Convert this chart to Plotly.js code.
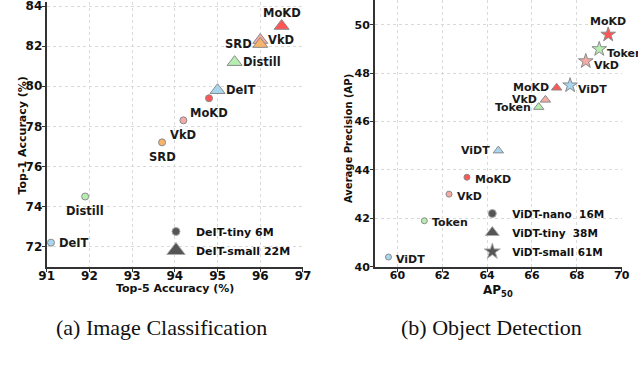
<!DOCTYPE html>
<html>
<head>
<meta charset="utf-8">
<script src="https://cdn.plot.ly/plotly-3.0.1.min.js"></script>
<style>
  body { margin: 0; background: #fff; }
  #chart { width: 638px; height: 376px; }
</style>
</head>
<body>
<div id="chart"></div>
<script>
// (a) image classification, DeiT-tiny (circles) and DeiT-small (triangles)
var clsTinyMethods = ["DeIT", "Distill", "SRD", "VkD", "MoKD"];
var clsTinyTop5 = [91.1, 91.9, 93.7, 94.2, 94.8];
var clsTinyTop1 = [72.2, 74.5, 77.2, 78.3, 79.4];

var clsSmallMethods = ["DeIT", "Distill", "VkD", "SRD", "MoKD"];
var clsSmallTop5 = [95.0, 95.4, 96.0, 96.0, 96.5];
var clsSmallTop1 = [79.8, 81.2, 82.3, 82.1, 83.0];

// (b) object detection, ViDT-nano / tiny / small
var detMethods = ["ViDT", "Token", "VkD", "MoKD"];
var nanoAP50 = [59.6, 61.2, 62.3, 63.1];
var nanoAP = [40.4, 41.9, 43.0, 43.7];
var tinyAP50 = [64.5, 66.3, 66.6, 67.1];
var tinyAP = [44.8, 46.6, 46.9, 47.4];
var smallMethods = ["ViDT", "Token", "VkD", "MoKD"];
var smallAP50 = [67.7, 69.0, 68.4, 69.4];
var smallAP = [47.5, 49.0, 48.5, 49.6];

var methodColor = {
  DeIT: "#a9d6ef", ViDT: "#a9d6ef",
  Distill: "#b6eeb0", Token: "#b6eeb0",
  SRD: "#f9b46a",
  VkD: "#f5aaa3",
  MoKD: "#ff5555"
};

var FONT = "DejaVu Sans, sans-serif";
var edge = {color: "#8a8a8a", width: 1};

// where a point's name sits next to it
var place = {
  r:  {xanchor: "left",   xshift: 6,  yshift: 0},
  rd: {xanchor: "left",   xshift: 6,  yshift: -2},
  rl: {xanchor: "left",   xshift: 6,  yshift: -4.5},
  l:  {xanchor: "right",  xshift: -6, yshift: 0},
  b:  {xanchor: "center", xshift: 0,  yshift: -14.5},
  t:  {xanchor: "center", xshift: 0,  yshift: 13}
};

function pts(methods, xs, ys, symbol, size, xa, ya) {
  return {
    x: xs, y: ys, text: methods,
    xaxis: xa, yaxis: ya,
    type: "scatter", mode: "markers",
    marker: {symbol: symbol, size: size, color: methods.map(function (m) { return methodColor[m]; }), line: edge},
    cliponaxis: false, showlegend: false, hoverinfo: "x+y+text"
  };
}

var annotations = [];
function names(methods, xs, ys, where, xa, ya, fs) {
  methods.forEach(function (m, i) {
    var p = place[where[i]];
    annotations.push({
      text: m, x: xs[i], y: ys[i], xref: xa, yref: ya, showarrow: false,
      xanchor: p.xanchor, yanchor: "middle", xshift: p.xshift, yshift: p.yshift,
      font: {family: FONT, size: fs, weight: "bold", color: "#1a1a1a"}
    });
  });
}

function key(name, symbol, size, xa, ya, lg) {
  return {
    x: [null], y: [null], xaxis: xa, yaxis: ya, name: name, legend: lg,
    type: "scatter", mode: "markers",
    marker: {symbol: symbol, size: size, color: "#555", line: {color: "#aaa", width: 1}}
  };
}

var data = [
  pts(clsTinyMethods, clsTinyTop5, clsTinyTop1, "circle", 7, "x", "y"),
  pts(clsSmallMethods, clsSmallTop5, clsSmallTop1, "triangle-up", 13, "x", "y"),
  pts(detMethods, nanoAP50, nanoAP, "circle", 6, "x2", "y2"),
  pts(detMethods, tinyAP50, tinyAP, "triangle-up", 9, "x2", "y2"),
  pts(smallMethods, smallAP50, smallAP, "star", 11, "x2", "y2"),
  key("DeIT-tiny 6M", "circle", 8, "x", "y", "legend"),
  key("DeIT-small 22M", "triangle-up", 18, "x", "y", "legend"),
  key("ViDT-nano\u00a0\u00a016M", "circle", 8, "x2", "y2", "legend2"),
  key("ViDT-tiny\u00a0\u00a038M", "triangle-up", 12, "x2", "y2", "legend2"),
  key("ViDT-small 61M", "star", 12, "x2", "y2", "legend2")
];

names(clsTinyMethods, clsTinyTop5, clsTinyTop1, ["r", "b", "b", "b", "b"], "x", "y", 11.5);
names(clsSmallMethods, clsSmallTop5, clsSmallTop1, ["r", "r", "r", "l", "t"], "x", "y", 11.5);
names(detMethods, nanoAP50, nanoAP, ["rd", "rd", "rd", "rd"], "x2", "y2", 11);
names(detMethods, tinyAP50, tinyAP, ["l", "l", "l", "l"], "x2", "y2", 11);
names(smallMethods, smallAP50, smallAP, ["rl", "rl", "rl", "t"], "x2", "y2", 11);

function axis(extra) {
  var a = {
    showline: true, linecolor: "#333", linewidth: 2,
    ticks: "outside", ticklen: 3, tickcolor: "#333",
    showgrid: true, gridcolor: "#d9d9d9", griddash: "dot", gridwidth: 1,
    zeroline: false, fixedrange: true, ticklabeloverflow: "allow",
    tickfont: {family: FONT, size: 12, weight: "bold", color: "#111"}
  };
  for (var k in extra) a[k] = extra[k];
  return a;
}

function paperText(text, x, y, size, angle, family) {
  return {
    text: text, xref: "paper", yref: "paper", x: x, y: y,
    xanchor: "center", yanchor: "middle", showarrow: false, textangle: angle,
    font: {family: family || FONT, size: size, weight: family ? "normal" : "bold", color: "#111"}
  };
}

annotations.push(
  paperText("Top-5 Accuracy (%)", 0.2743, 0.232, 11, 0),
  paperText("Top-1 Accuracy (%)", 0.0345, 0.6396, 11, -90),
  paperText("AP<sub>50</sub>", 0.7806, 0.227, 12, 0),
  paperText("Average Precision (AP)", 0.5455, 0.6303, 10, -90),
  paperText("(a) Image Classification", 0.2534, 0.1277, 22, 0, "Liberation Serif, serif"),
  paperText("(b) Object Detection", 0.7707, 0.1277, 22, 0, "Liberation Serif, serif")
);

var layout = {
  width: 638, height: 376,
  margin: {l: 0, r: 0, t: 0, b: 0},
  paper_bgcolor: "#fff", plot_bgcolor: "#fff",
  xaxis: axis({domain: [0.0732, 0.4749], range: [91, 97], dtick: 1, anchor: "y", ticklabelstandoff: -6}),
  yaxis: axis({domain: [0.2907, 0.9947], range: [71.0, 84.2], tick0: 72, dtick: 2, anchor: "x", ticklabelstandoff: -3}),
  xaxis2: axis({domain: [0.5878, 0.9744], range: [59, 70], tick0: 60, dtick: 2, anchor: "y2", ticklabelstandoff: -6,
    tickfont: {family: FONT, size: 11, weight: "bold", color: "#111"}}),
  yaxis2: axis({domain: [0.2907, 1.0], range: [40, 51.03], tick0: 40, dtick: 2, anchor: "x2", ticklabelstandoff: -2,
    tickfont: {family: FONT, size: 11, weight: "bold", color: "#111"}}),
  legend: {x: 0.2445, y: 0.4229, xanchor: "left", yanchor: "top", bgcolor: "rgba(0,0,0,0)",
    itemsizing: "trace", tracegroupgap: 0,
    font: {family: FONT, size: 11, weight: "bold", color: "#111"}},
  legend2: {x: 0.7403, y: 0.4707, xanchor: "left", yanchor: "top", bgcolor: "rgba(0,0,0,0)",
    itemsizing: "trace", tracegroupgap: 0,
    font: {family: FONT, size: 10.5, weight: "bold", color: "#111"}},
  annotations: annotations
};

Plotly.newPlot("chart", data, layout, {displayModeBar: false, staticPlot: true});
</script>
</body>
</html>
